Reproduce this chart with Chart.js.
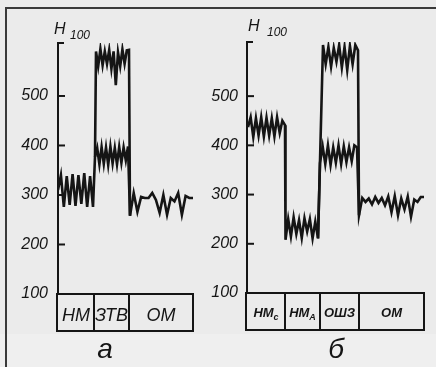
<!DOCTYPE html>
<html>
<head>
<meta charset="utf-8">
<script src="https://cdn.jsdelivr.net/npm/chart.js@4.4.1/dist/chart.umd.min.js"></script>
<style>
  body { margin: 0; background: #ebebeb; }
  #wrap { position: relative; width: 436px; height: 367px; overflow: hidden; background: #ebebeb; }
  #band { position: absolute; left: 0; top: 334px; width: 436px; height: 33px; background: #efefef; }
  #frame { position: absolute; left: 5px; top: 7px; width: 440px; height: 370px; border-top: 2px solid #3a3a3a; border-left: 2px solid #3a3a3a; }
  canvas { position: absolute; left: 0; top: 0; }
</style>
</head>
<body>
<div id="wrap">
  <div id="band"></div>
  <div id="frame"></div>
  <canvas id="chartA" width="436" height="367"></canvas>
  <canvas id="chartB" width="436" height="367"></canvas>
</div>
<script>
// tick labels
const tickValues = [100, 200, 300, 400, 500];

// panel а: segments (x bounds in time units) and readings
const segA = ["НМ", "ЗТВ", "ОМ"];
const segBoundsA = [0, 36, 71, 135];
const hmA = [310, 340, 276, 338, 280, 342, 278, 340, 282, 344, 276, 338, 276];
const ztvLowA = [377, 395, 362, 397, 363, 396, 361, 398, 364, 395, 362, 397, 365, 396, 370, 398];
const ztvHighA = [590, 560, 595, 562, 590, 565, 593, 555, 590, 522, 588, 560, 594, 565, 592, 593];
const omA = [258, 304, 266, 296, 294, 294, 304, 290, 264, 300, 260, 294, 287, 304, 260, 298, 294, 294];

// panel б
const segB = ["НМ", "НМ", "ОШЗ", "ОМ"];
const segSubB = ["с", "А", "", ""];
const segBoundsB = [0, 38, 73, 112, 177];
const hmcB = [437, 457, 417, 455, 420, 457, 418, 456, 420, 455, 418, 457, 425, 450, 441];
const hmaB = [208, 250, 215, 254, 220, 248, 212, 252, 225, 250, 211, 245, 211];
const oshzLowB = [364, 398, 362, 400, 360, 396, 365, 400, 362, 398, 366, 396, 368, 400, 396];
const oshzHighB = [604, 565, 600, 560, 598, 570, 604, 558, 600, 553, 602, 565, 604, 593];
const omB = [258, 293, 285, 292, 280, 295, 283, 293, 278, 296, 264, 297, 258, 292, 270, 296, 255, 290, 285, 295, 295];

// spread a segment's readings evenly between x0 and x1
function spread(vals, x0, x1) {
  return vals.map((v, i) => ({ x: x0 + (x1 - x0) * i / (vals.length - 1), y: v }));
}

const aHm = spread(hmA, 0, 35);
const aLow = spread(ztvLowA, 37, 70);
const aHigh = spread(ztvHighA, 38, 71);
const aOm = spread(omA, 72, 135);

const bHmc = spread(hmcB, 1, 38);
const bHma = spread(hmaB, 38.5, 71);
const bLow = spread(oshzLowB, 73, 110);
const bHigh = spread(oshzHighB, 76, 111);
const bOm = spread(omB, 112, 177);

const ink = "#151515";

const panelPlugin = {
  id: "panel",
  afterDraw(chart) {
    const o = chart.options.plugins.panel;
    const { ctx, chartArea } = chart;
    const xs = chart.scales.x, ys = chart.scales.y;
    const left = chartArea.left, top = chartArea.top;
    const base = ys.getPixelForValue(100);
    ctx.save();
    ctx.strokeStyle = ink;
    ctx.fillStyle = ink;
    ctx.lineWidth = 2;
    // axis line with top bracket
    ctx.beginPath();
    ctx.moveTo(left + 6, top);
    ctx.lineTo(left, top);
    ctx.lineTo(left, base);
    ctx.stroke();
    // inward ticks
    tickValues.slice(1).forEach(v => {
      const y = ys.getPixelForValue(v);
      ctx.beginPath();
      ctx.moveTo(left, y);
      ctx.lineTo(left + 7, y);
      ctx.stroke();
    });
    // box with segment labels
    const b0 = base, b1 = base + 37;
    const bx0 = xs.getPixelForValue(o.bounds[0]) - 1;
    const bx1 = xs.getPixelForValue(o.bounds[o.bounds.length - 1]);
    ctx.strokeRect(bx0, b0, bx1 - bx0, b1 - b0);
    o.bounds.slice(1, -1).forEach(v => {
      const x = xs.getPixelForValue(v);
      ctx.beginPath();
      ctx.moveTo(x, b0);
      ctx.lineTo(x, b1);
      ctx.stroke();
    });
    ctx.textBaseline = "alphabetic";
    o.labels.forEach((lab, i) => {
      const cx = (xs.getPixelForValue(o.bounds[i]) + xs.getPixelForValue(o.bounds[i + 1])) / 2;
      const sub = o.subs ? o.subs[i] : "";
      ctx.font = o.labelFont;
      const w = ctx.measureText(lab).width;
      ctx.font = o.subFont;
      const sw = sub ? ctx.measureText(sub).width : 0;
      const x0 = cx - (w + sw) / 2;
      ctx.font = o.labelFont;
      ctx.textAlign = "left";
      ctx.fillText(lab, x0, b0 + o.labelBase);
      if (sub) {
        ctx.font = o.subFont;
        ctx.fillText(sub, x0 + w, b0 + o.labelBase + 3);
      }
    });
    // axis title H_100
    ctx.textAlign = "left";
    ctx.font = "italic 16px 'Liberation Sans'";
    ctx.fillText("Н", o.titleX, o.titleY);
    ctx.font = "italic 12px 'Liberation Sans'";
    ctx.fillText("100", o.subX, o.titleY + 5);
    // panel letter
    ctx.textAlign = "center";
    ctx.font = "italic 28px 'Liberation Sans'";
    ctx.fillText(o.letter, o.letterX, 358);
    ctx.restore();
  }
};

function makeChart(id, main, high, xMax, yMax, pad, axisW, tickPad, panel) {
  return new Chart(document.getElementById(id), {
    type: "line",
    data: {
      datasets: [
        { data: main, borderColor: ink, borderWidth: 2.6, pointRadius: 0, tension: 0, fill: false },
        { data: high, borderColor: ink, borderWidth: 2.6, pointRadius: 0, tension: 0, fill: false }
      ]
    },
    options: {
      responsive: false,
      animation: false,
      layout: { padding: pad },
      plugins: { legend: { display: false }, tooltip: { enabled: false }, panel: panel },
      scales: {
        x: { type: "linear", min: 0, max: xMax, display: false },
        y: {
          min: 100, max: yMax,
          afterBuildTicks: s => { s.ticks = tickValues.map(v => ({ value: v })); },
          afterFit: s => { s.width = axisW; },
          grid: { display: false, drawTicks: false },
          border: { display: false },
          ticks: { color: ink, padding: tickPad, font: { family: "'Liberation Sans'", style: "italic", size: 16 } }
        }
      }
    },
    plugins: [panelPlugin]
  });
}

makeChart("chartA",
  [...aHm, ...aLow, ...aOm],
  [aLow[0], ...aHigh, aOm[0]],
  135, 607,
  { left: 0, top: 43, right: 243, bottom: 73 }, 58, 10,
  { bounds: segBoundsA, labels: segA, labelFont: "italic 18px 'Liberation Sans'", subFont: "italic 12px 'Liberation Sans'",
    labelBase: 27, titleX: 54, titleY: 34, subX: 70, letter: "а", letterX: 105 });

makeChart("chartB",
  [...bHmc, ...bHma, ...bLow, ...bOm],
  [bHma[bHma.length - 1], ...bHigh, bOm[0]],
  177, 610,
  { left: 200, top: 42, right: 12, bottom: 74 }, 47, 9,
  { bounds: segBoundsB, labels: segB, subs: segSubB, labelFont: "italic bold 13px 'Liberation Sans'", subFont: "italic bold 9px 'Liberation Sans'",
    labelBase: 24, titleX: 248, titleY: 31, subX: 267, letter: "б", letterX: 336 });
</script>
</body>
</html>
